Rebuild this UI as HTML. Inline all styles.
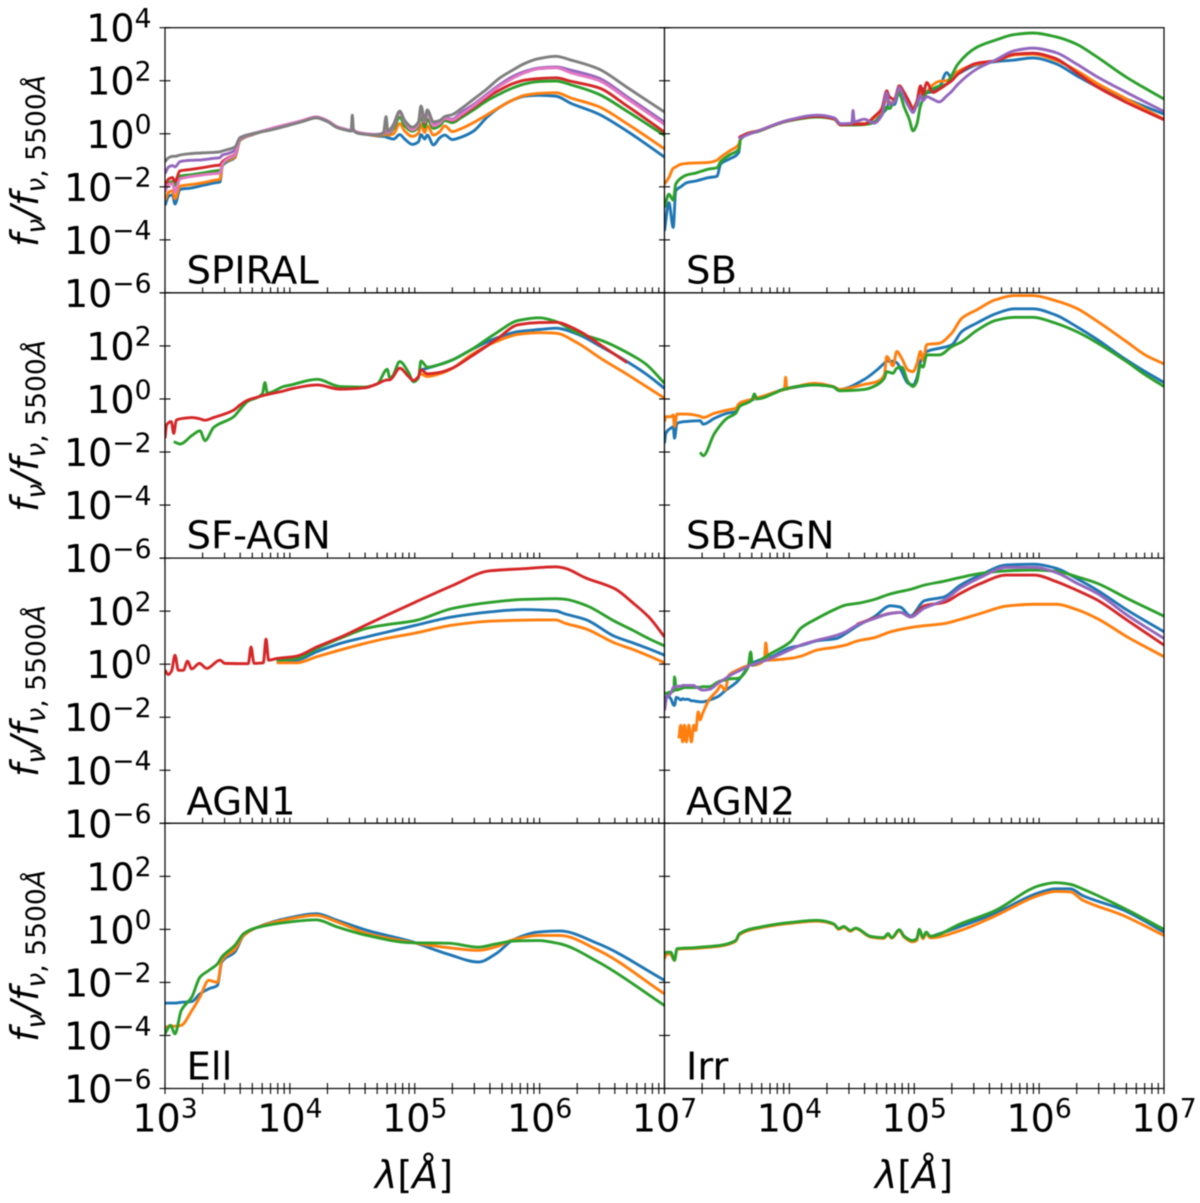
<!DOCTYPE html>
<html lang="en">
<head>
<meta charset="utf-8">
<title>Template SEDs by galaxy class</title>
<style>
html,body{margin:0;padding:0;background:#fff;}
svg{display:block;filter:blur(0.45px);}
text{font-family:"DejaVu Sans","Liberation Sans",sans-serif;fill:#000;}
.tl{font-size:38px;}
.title{font-size:38.6px;}
</style>
</head>
<body>
<svg id="figure" xmlns="http://www.w3.org/2000/svg" width="1200" height="1203" viewBox="0 0 1200 1203">
<rect x="0" y="0" width="1200" height="1203" fill="#fff"/>
<g id="panels"></g>
<text class="title" x="186.5" y="283.5">SPIRAL</text>
<text class="title" x="686" y="283.5">SB</text>
<text class="title" x="186.5" y="548.5">SF-AGN</text>
<text class="title" x="686" y="548.5">SB-AGN</text>
<text class="title" x="186.5" y="814.5">AGN1</text>
<text class="title" x="686" y="814.5">AGN2</text>
<text class="title" x="186.5" y="1079.5">Ell</text>
<text class="title" x="686" y="1079.5">Irr</text>
<text class="tl" transform="translate(38,161) rotate(-90)" text-anchor="middle" font-style="italic">f<tspan dy="7" font-size="26.6">ν</tspan><tspan dy="-7">/f</tspan><tspan dy="7" font-size="26.6">ν<tspan font-style="normal">, 5500</tspan>Å</tspan></text>
<text class="tl" transform="translate(38,426) rotate(-90)" text-anchor="middle" font-style="italic">f<tspan dy="7" font-size="26.6">ν</tspan><tspan dy="-7">/f</tspan><tspan dy="7" font-size="26.6">ν<tspan font-style="normal">, 5500</tspan>Å</tspan></text>
<text class="tl" transform="translate(38,691) rotate(-90)" text-anchor="middle" font-style="italic">f<tspan dy="7" font-size="26.6">ν</tspan><tspan dy="-7">/f</tspan><tspan dy="7" font-size="26.6">ν<tspan font-style="normal">, 5500</tspan>Å</tspan></text>
<text class="tl" transform="translate(38,956) rotate(-90)" text-anchor="middle" font-style="italic">f<tspan dy="7" font-size="26.6">ν</tspan><tspan dy="-7">/f</tspan><tspan dy="7" font-size="26.6">ν<tspan font-style="normal">, 5500</tspan>Å</tspan></text>
<text class="tl" x="414" y="1188" text-anchor="middle"><tspan font-style="italic">λ</tspan>[<tspan font-style="italic">Å</tspan>]</text>
<text class="tl" x="914" y="1188" text-anchor="middle"><tspan font-style="italic">λ</tspan>[<tspan font-style="italic">Å</tspan>]</text>
</svg>
<script>
const _ = null;

/* tick data (log10 units) */
const xTickDecades = [3, 4, 5, 6, 7];
const xTickLabels = ["3", "4", "5", "6", "7"];
const xMinorMultiples = [2, 3, 4, 5, 6, 7, 8, 9];
const yTickDecades = [4, 2, 0, -2, -4, -6];
const yTickLabels = ["4", "2", "0", "−2", "−4", "−6"];

/* SPIRAL: log10 wavelength and log10 flux */
const spiralWave = [3,3.03,3.06,3.08,3.12,3.2,3.3,3.4,3.44,3.46,3.5,3.56,3.6,3.7,3.85,4,4.1,4.21,4.3,4.38,4.44,4.49,4.5,4.51,4.6,4.69,4.75,4.77,4.785,4.83,4.88,4.92,4.98,5.03,5.05,5.08,5.1,5.15,5.2,5.24,5.3,5.37,5.47,5.58,5.68,5.78,5.88,5.99,6.13,6.25,6.47,6.7,7];
const spiralBlue = [-2.7,-2.35,-2.3,-2.65,-2.1,-2.05,-1.95,-1.85,-1.82,-1.2,-1.05,-.9,-.25,-.03,.18,.36,.48,.62,.48,.25,.17,.12,.3,.12,0,-.08,-.1,-.12,-.15,-.2,-.03,-.2,-.4,-.3,-.03,-.2,-.05,-.42,-.15,-.05,-.22,-.13,.1,.63,1,1.26,1.42,1.45,1.42,1.15,.75,.1,-.88];
const spiralOrange = [-2.5,-2.2,-2.15,-2.45,-1.98,-1.92,-1.85,-1.75,-1.72,-1.15,-1.02,-.88,-.24,-.03,.18,.36,.48,.62,.48,.25,.17,.12,.3,.12,0,-.07,-.05,-.03,-.05,0,.38,.1,-.1,.03,.35,.05,.3,-.05,.08,.3,.08,.19,.42,.72,1,1.26,1.45,1.52,1.55,1.35,1.03,.38,-.57];
const spiralGreen = [-2.1,-1.85,-1.8,-1.95,-1.6,-1.55,-1.48,-1.4,-1.38,-1.2,-.98,-.82,-.22,-.03,.18,.36,.48,.62,.48,.25,.17,.12,.3,.12,0,-.05,-.02,.15,0,.2,.62,.3,.1,.25,.7,.25,.55,.2,.3,.5,.42,.6,.9,1.25,1.5,1.72,1.88,1.97,1.99,1.85,1.5,.85,-.06];
const spiralRed = [-1.95,-1.7,-1.65,-1.8,-1.4,-1.35,-1.28,-1.2,-1.18,-1.05,-.92,-.78,-.2,-.02,.18,.37,.49,.63,.48,.25,.17,.12,.35,.12,0,-.04,0,.3,.02,.3,.8,.45,.15,.35,1,.4,.85,.3,.4,.58,.5,.68,1,1.37,1.65,1.88,2.02,2.08,2.11,1.98,1.74,1.05,.06];
const spiralPurple = [-1.5,-1.25,-1.2,-1.25,-1.05,-1,-.98,-.92,-.9,-.8,-.75,-.62,-.15,0,.19,.37,.49,.63,.49,.26,.17,.12,.35,.12,0,-.02,.02,.45,.05,.35,.85,.45,.2,.4,.95,.45,.8,.35,.45,.6,.55,.8,1.1,1.5,1.85,2.15,2.35,2.48,2.52,2.4,2.11,1.4,.44];
const spiralPink = [-2.2,-1.9,-1.88,-2.2,-1.7,-1.62,-1.55,-1.5,-1.48,-1.15,-.95,-.8,-.2,-.02,.2,.38,.5,.64,.5,.26,.18,.13,.4,.13,.01,-.03,0,.35,.02,.3,.8,.45,.15,.35,.95,.45,.8,.3,.4,.58,.52,.72,1.05,1.45,1.8,2.08,2.3,2.45,2.49,2.3,2.02,1.32,.35];
const spiralGray = [-1.05,-.9,-.85,-.85,-.8,-.75,-.72,-.7,-.68,-.65,-.6,-.5,-.15,0,.15,.33,.46,.6,.46,.23,.15,.1,.7,.1,-.02,-.05,.05,.65,.1,.35,.85,.5,.25,.45,1.05,.5,.9,.45,.5,.65,.72,.94,1.3,1.7,2.1,2.39,2.65,2.83,2.92,2.78,2.45,1.75,.82];

/* SB */
const sbWave = [3,3.035,3.07,3.09,3.13,3.18,3.25,3.355,3.42,3.45,3.52,3.595,3.61,3.77,3.98,4.22,4.36,4.41,4.5,4.51,4.52,4.6,4.68,4.74,4.78,4.8,4.84,4.88,4.92,4.96,4.99,5.02,5.05,5.07,5.1,5.15,5.2,5.26,5.3,5.35,5.5,5.65,5.8,5.95,6.13,6.3,6.45,6.7,7];
const sbBlue = [-3.66,-2.6,-3.53,-2.15,-2,-1.84,-1.78,-1.65,-1.6,-1.14,-.95,-.7,-.14,.14,.49,.68,.58,.36,.38,.38,.38,.38,.45,.75,.95,1.2,1.1,1.6,1.5,1.2,.95,1.05,1.5,1.7,1.55,1.6,1.75,2.31,2.1,2.25,2.6,2.72,2.78,2.86,2.65,2.19,1.81,1.31,.74];
const sbOrange = [-1.9,-1.65,-1.3,-1.25,-1.15,-1.12,-1.1,-1.08,-1,-.88,-.65,-.4,-.14,.14,.49,.68,.58,.36,.38,.38,.38,.38,.6,.9,1.25,1.15,1.2,1.68,1.45,1.1,1,1.2,1.75,1.35,1.56,1.85,1.98,2,2.15,2.35,2.63,2.75,2.97,3,2.78,2.38,1.94,1.31,.55];
const sbGreen = [-2.78,-2.28,-2.5,-1.9,-1.68,-1.55,-1.48,-1.33,-1.28,-1.05,-.8,-.58,-.2,.12,.47,.63,.55,.33,.33,.33,.33,.35,.42,.7,1,.95,1.25,1.5,1,.55,.11,.35,1.06,1.3,1.56,1.7,1.8,1.87,2.2,2.63,3.26,3.53,3.74,3.8,3.66,3.38,2.94,2.13,1.31];
const sbRed = [_,_,_,_,_,_,_,_,_,_,_,-.15,-.1,.14,.49,.66,.56,.34,.36,.36,.36,.36,.65,.95,1.62,1.4,1.3,1.81,1.55,1.2,.93,1.2,1.81,1.5,1.93,1.56,1.68,1.87,2,2.25,2.66,2.75,3,3.04,2.84,2.31,1.81,1.18,.53];
const sbPurple = [_,_,_,_,_,_,_,_,_,_,_,-.2,-.15,.14,.5,.7,.6,.38,.4,.88,.45,.55,.4,.7,1.55,1.1,1.2,1.75,1.35,1,.8,1.1,1.45,1.25,1.4,1.3,1.2,1.43,1.6,1.87,2.44,2.78,3.13,3.23,3.07,2.63,2.19,1.56,.84];

/* SF-AGN */
const sfAgnWave = [3,3.013,3.05,3.07,3.09,3.12,3.22,3.28,3.32,3.39,3.55,3.6,3.66,3.78,3.8,3.82,3.95,4,4.22,4.4,4.6,4.7,4.78,4.8,4.82,4.88,4.95,4.99,5.03,5.05,5.1,5.2,5.3,5.45,5.65,5.83,6,6.13,6.3,6.5,6.7,6.85,7];
const sfAgnBlue = [_,_,_,_,_,_,_,_,_,_,_,_,_,_,_,_,_,_,_,_,_,_,_,_,_,_,_,_,_,1.1,1.16,1.3,1.47,1.85,2.29,2.54,2.62,2.67,2.45,1.95,1.41,.95,.4];
const sfAgnOrange = [_,_,_,_,_,_,_,_,_,_,_,_,_,_,_,_,_,_,_,_,_,_,_,_,_,_,_,_,_,.95,.85,.95,1.15,1.66,2.16,2.44,2.5,2.48,2.12,1.5,.93,.48,.03];
const sfAgnGreen = [_,_,_,-1.61,-1.65,-1.7,-1.36,-1.2,-1.57,-1.07,-.67,-.4,-.1,.2,.62,.22,.47,.52,.74,.47,.45,.57,1.12,.8,.85,1.41,1,.65,.8,1.43,1.2,1.3,1.47,1.85,2.48,2.96,3.06,2.92,2.5,2.2,1.75,1.32,.59];
const sfAgnRed = [-1.48,-.98,-.85,-1.3,-.8,-.75,-.7,-.75,-.8,-.7,-.42,-.23,-.05,.12,.15,.17,.3,.37,.53,.37,.42,.57,.72,.72,.8,1.16,.85,.7,.85,1.1,.95,1,1.16,1.6,2.23,2.8,2.88,2.89,2.6,2,1.37,_,_];

/* SB-AGN */
const sbAgnWave = [3,3.01,3.05,3.07,3.08,3.1,3.17,3.285,3.31,3.4,3.5,3.57,3.6,3.7,3.72,3.74,3.9,3.96,3.97,3.98,4,4.2,4.35,4.4,4.6,4.7,4.76,4.78,4.83,4.86,4.9,4.95,4.99,5.02,5.05,5.07,5.1,5.2,5.3,5.38,5.5,5.65,5.8,5.95,6.13,6.3,6.45,6.7,6.85,7];
const sbAgnBlue = [-1.67,-1.3,-1.1,-1.05,-1.48,-.92,-.85,-.82,-.95,-.73,-.54,-.48,-.23,-.04,0,.02,.28,.37,.37,.38,.4,.53,.47,.36,.74,1.09,1.35,1.43,1.42,1.37,1.03,.59,.53,.78,1.41,1.6,1.79,1.91,2.04,2.54,2.86,3.21,3.4,3.4,3.17,2.73,2.29,1.47,1.03,.62];
const sbAgnOrange = [-.85,-.67,-.67,-.6,-1.04,-.57,-.57,-.65,-.7,-.54,-.42,-.35,-.16,-.01,.02,.04,.28,.37,.82,.38,.4,.59,.47,.36,.55,.65,.9,1.6,1.25,1.79,1.53,1.09,1.03,1.3,1.79,1.45,2.05,2.1,2.48,3.04,3.36,3.74,3.9,3.9,3.71,3.42,2.98,2.16,1.66,1.32];
const sbAgnGreen = [_,_,_,_,_,_,_,-2.01,-2.14,-1.3,-.73,-.54,-.29,-.04,.19,0,.26,.37,.37,.38,.42,.53,.46,.31,.36,.53,.78,1.03,.97,1.16,1.2,.65,.47,.65,1.28,1.2,1.66,1.66,1.97,2.16,2.58,2.96,3.08,3.08,2.86,2.54,2.16,1.41,.91,.47];

/* AGN1 */
const agn1Wave = [3,3.027,3.053,3.08,3.107,3.147,3.18,3.214,3.275,3.334,3.44,3.48,3.667,3.689,3.713,3.787,3.809,3.83,3.894,4.054,4.215,4.43,4.615,4.75,5,5.3,5.6,5.87,6.13,6.2,6.37,6.6,6.75,6.88,7];
const agn1Blue = [_,_,_,_,_,_,_,_,_,_,_,_,_,_,_,_,_,_,.11,.15,.47,.82,1.03,1.18,1.46,1.78,1.97,2.06,2.01,1.9,1.68,1.05,.8,.57,.34];
const agn1Orange = [_,_,_,_,_,_,_,_,_,_,_,_,_,_,_,_,_,_,.05,.05,.28,.57,.8,.95,1.17,1.47,1.62,1.66,1.67,1.55,1.33,.8,.55,.3,.05];
const agn1Green = [_,_,_,_,_,_,_,_,_,_,_,_,_,_,_,_,_,_,.15,.21,.59,1.03,1.35,1.47,1.64,2.1,2.33,2.44,2.47,2.45,2.22,1.62,1.27,.95,.69];
const agn1Red = [-.23,-.39,-.25,.34,-.23,-.23,.11,-.18,.03,-.16,.15,.03,.02,.65,.03,.05,.94,.15,.21,.3,.65,1.07,1.49,1.79,2.33,2.96,3.52,3.6,3.67,3.62,3.25,2.85,2.3,1.75,1.03];

/* AGN2 */
const agn2Wave = [3,3.02,3.035,3.05,3.075,3.08,3.095,3.115,3.13,3.145,3.16,3.175,3.195,3.215,3.235,3.25,3.27,3.285,3.305,3.36,3.425,3.45,3.485,3.515,3.58,3.67,3.69,3.705,3.8,3.811,3.828,4.01,4.09,4.22,4.38,4.45,4.54,4.68,4.81,4.89,4.97,5.08,5.24,5.37,5.53,5.74,5.96,6.14,6.3,6.465,6.705,7];
const agn2Blue = [-1.48,-1.2,-1.23,-1.3,-1.55,-1.55,-1.25,-1.3,-1.35,-1.3,-1.33,-1.32,-1.33,-1.38,-1.38,-1.4,-1.41,-1.42,-1.42,-1.35,-1.23,-1.15,-1,-.9,-.67,-.1,.03,.05,.2,.2,.22,.63,.7,.88,.97,1.15,1.43,1.79,2.2,2.15,1.82,2.39,2.54,2.98,3.36,3.74,3.77,3.61,3.23,2.79,2.04,1.22];
const agn2Orange = [_,_,_,_,_,_,_,-2.8,-2.3,-2.93,-2.3,-2.93,-2.3,-2.93,-2.3,-2.5,-1.8,-2.1,-1.86,-1.32,-.98,-.8,-.98,-.42,-.23,-.05,-.03,-.04,.15,.8,.15,.22,.3,.53,.65,.72,.87,1,1.22,1.31,1.38,1.45,1.53,1.69,1.91,2.19,2.26,2.26,2.06,1.72,1.03,.28];
const agn2Green = [-1.1,-1.1,-1.06,-1.05,-1,-.48,-.98,-.95,-.93,-.9,-.88,-.88,-.88,-.88,-.88,-.88,-.87,-.87,-.85,-.85,-.68,-.63,-.6,-.55,-.54,-.1,.46,-.04,.25,.27,.33,.85,1.35,1.72,2.1,2.23,2.29,2.44,2.65,2.74,2.82,2.98,3.13,3.27,3.42,3.52,3.55,3.5,3.3,3.05,2.48,1.81];
const agn2Red = [_,_,_,_,_,_,_,_,_,_,_,_,_,_,_,_,_,_,_,_,_,_,_,_,_,_,_,_,_,_,_,_,_,_,_,_,1.5,1.74,1.92,1.95,1.78,2.2,2.33,2.67,3.04,3.36,3.36,3.11,2.79,2.42,1.66,.72];
const agn2Purple = [-1.74,-1.23,-1.17,-1.1,-.86,-.86,-.86,-.83,-.83,-.8,-.8,-.8,-.8,-.8,-.8,-.85,-.9,-.95,-.98,-.95,-.73,-.65,-.55,-.45,-.29,-.08,-.03,-.02,.13,.14,.17,.55,.72,.9,1.09,1.22,1.47,1.72,1.91,1.95,1.78,2.11,2.42,2.87,3.27,3.65,3.65,3.45,3.06,2.67,1.85,.97];

/* Ell */
const ellWave = [3,3.044,3.08,3.13,3.215,3.28,3.35,3.42,3.455,3.56,3.63,3.73,4,4.21,4.38,4.62,4.96,5.27,5.51,5.65,5.79,5.99,6.16,6.47,7];
const ellBlue = [-2.78,-2.78,-2.78,-2.75,-2.72,-2.43,-2.24,-2.11,-1.23,-.85,-.23,.06,.44,.59,.34,-.04,-.44,-.94,-1.23,-.92,-.39,-.1,-.06,-.54,-1.92];
const ellOrange = [-3.69,-3.65,-3.65,-3.62,-3.06,-2.55,-1.92,-2,-1.17,-.75,-.23,.06,.4,.53,.28,-.16,-.48,-.69,-.79,-.66,-.39,-.23,-.23,-.79,-2.43];
const ellGreen = [-3.94,-3.62,-3.94,-3.06,-2.55,-1.8,-1.55,-1.3,-1.04,-.6,-.16,.06,.28,.36,.09,-.23,-.5,-.52,-.67,-.55,-.44,-.42,-.54,-1.23,-2.87];

/* Irr */
const irrWave = [3,3.02,3.05,3.08,3.1,3.235,3.37,3.45,3.57,3.6,3.77,4.01,4.22,4.355,4.395,4.435,4.49,4.53,4.65,4.755,4.79,4.82,4.88,4.92,4.985,5.02,5.04,5.07,5.095,5.13,5.37,5.64,6.01,6.13,6.25,6.35,6.67,7];
const irrBlue = [_,_,_,_,_,_,_,_,_,_,_,_,_,_,_,_,_,_,_,_,_,_,_,_,_,_,_,_,_,-.28,.11,.59,1.4,1.53,1.53,1.27,.74,-.1];
const irrOrange = [-1.1,-.92,-.95,-1.17,-.75,-.72,-.67,-.63,-.45,-.2,.06,.23,.31,.19,0,.08,-.07,.03,-.29,-.34,-.2,-.33,-.05,-.3,-.47,-.42,-.05,-.35,-.17,-.32,-.04,.49,1.3,1.43,1.41,1.1,.53,-.23];
const irrGreen = [-.92,-.86,-.86,-1.17,-.73,-.69,-.64,-.6,-.42,-.16,.09,.26,.34,.21,.03,.11,-.04,.05,-.26,-.31,-.16,-.31,-.01,-.26,-.42,-.35,0,-.3,-.1,-.26,.21,.69,1.66,1.76,1.7,1.52,.82,0];

const BLUE = "#1f77b4", ORANGE = "#ff7f0e", GREEN = "#2ca02c", RED = "#d62728", PURPLE = "#9467bd", PINK = "#e377c2", GRAY = "#7f7f7f";

const panelList = [
  {key:"spiral", row:0, col:0, wave:spiralWave, lines:[["blue",BLUE,spiralBlue],["orange",ORANGE,spiralOrange],["green",GREEN,spiralGreen],["red",RED,spiralRed],["purple",PURPLE,spiralPurple],["pink",PINK,spiralPink],["gray",GRAY,spiralGray]]},
  {key:"sb", row:0, col:1, wave:sbWave, lines:[["blue",BLUE,sbBlue],["orange",ORANGE,sbOrange],["green",GREEN,sbGreen],["red",RED,sbRed],["purple",PURPLE,sbPurple]]},
  {key:"sf-agn", row:1, col:0, wave:sfAgnWave, lines:[["blue",BLUE,sfAgnBlue],["orange",ORANGE,sfAgnOrange],["green",GREEN,sfAgnGreen],["red",RED,sfAgnRed]]},
  {key:"sb-agn", row:1, col:1, wave:sbAgnWave, lines:[["blue",BLUE,sbAgnBlue],["orange",ORANGE,sbAgnOrange],["green",GREEN,sbAgnGreen]]},
  {key:"agn1", row:2, col:0, wave:agn1Wave, lines:[["blue",BLUE,agn1Blue],["orange",ORANGE,agn1Orange],["green",GREEN,agn1Green],["red",RED,agn1Red]]},
  {key:"agn2", row:2, col:1, wave:agn2Wave, lines:[["blue",BLUE,agn2Blue],["orange",ORANGE,agn2Orange],["green",GREEN,agn2Green],["red",RED,agn2Red],["purple",PURPLE,agn2Purple]]},
  {key:"ell", row:3, col:0, wave:ellWave, lines:[["blue",BLUE,ellBlue],["orange",ORANGE,ellOrange],["green",GREEN,ellGreen]]},
  {key:"irr", row:3, col:1, wave:irrWave, lines:[["blue",BLUE,irrBlue],["orange",ORANGE,irrOrange],["green",GREEN,irrGreen]]}
];

const NS = "http://www.w3.org/2000/svg";
const PANEL_W = 499.5, PANEL_H = 265.2, LEFT = 165, TOP = 27.7, TICK = 5.5;

function panelLeft(col){ return LEFT + col * PANEL_W; }
function panelTop(row){ return TOP + row * PANEL_H; }
function xScale(col, logWave){ return panelLeft(col) + (logWave - 3) / 4 * PANEL_W; }
function yScale(row, logFlux){ return panelTop(row) + (4 - logFlux) / 10 * PANEL_H; }

function make(tag, parent, attrs){
  const el = document.createElementNS(NS, tag);
  for (const k in attrs) el.setAttribute(k, attrs[k]);
  parent.appendChild(el);
  return el;
}

function tickLine(parent, x1, y1, x2, y2){
  const el = make("line", parent, {x1:x1, y1:y1, x2:x2, y2:y2, stroke:"#000", "stroke-width":1.1});
  
  
  return el;
}

function powerLabel(parent, x, y, anchor, exponent){
  const t = make("text", parent, {x:x, y:y, "text-anchor":anchor, "class":"tl"});
  
  
  t.appendChild(document.createTextNode("10"));
  const s = make("tspan", t, {dy:-14.2, "font-size":26.6});
  s.textContent = exponent;
  return t;
}

/* Monotone cubic path through one unbroken run of points: keeps spikes sharp, rounds smooth humps */
function smoothRun(pts){
  if (pts.length < 2) return "";
  const n = pts.length, slope = [], tan = [];
  for (let i = 0; i < n - 1; i++) slope.push((pts[i+1][1] - pts[i][1]) / (pts[i+1][0] - pts[i][0]));
  tan.push(slope[0]);
  for (let i = 1; i < n - 1; i++){
    if (slope[i-1] * slope[i] <= 0) tan.push(0);
    else {
      const h0 = pts[i][0] - pts[i-1][0], h1 = pts[i+1][0] - pts[i][0];
      tan.push(3 * (h0 + h1) / ((2 * h1 + h0) / slope[i-1] + (h1 + 2 * h0) / slope[i]));
    }
  }
  tan.push(slope[n-2]);
  let d = "M" + pts[0][0].toFixed(2) + " " + pts[0][1].toFixed(2);
  for (let i = 0; i < n - 1; i++){
    const h = (pts[i+1][0] - pts[i][0]) / 3;
    d += "C" + (pts[i][0] + h).toFixed(2) + " " + (pts[i][1] + tan[i] * h).toFixed(2) + " "
       + (pts[i+1][0] - h).toFixed(2) + " " + (pts[i+1][1] - tan[i+1] * h).toFixed(2) + " "
       + pts[i+1][0].toFixed(2) + " " + pts[i+1][1].toFixed(2);
  }
  return d;
}

function buildPanel(p){
  const root = document.getElementById("panels");
  const g = make("g", root, {});
  
  
  const x0 = panelLeft(p.col), y0 = panelTop(p.row);

  const bg = make("rect", g, {x:x0, y:y0, width:PANEL_W, height:PANEL_H, fill:"#fff"});
  
  

  const clip = make("clipPath", g, {id:"clip-" + p.key});
  make("rect", clip, {x:x0, y:y0, width:PANEL_W, height:PANEL_H});

  const plot = make("g", g, {"clip-path":"url(#clip-" + p.key + ")"});
  
  
  p.lines.forEach(function(s){
    let d = "", run = [];
    const n = Math.min(p.wave.length, s[2].length);
    for (let i = 0; i < n; i++){
      const v = s[2][i];
      if (v === null){ d += smoothRun(run); run = []; continue; }
      run.push([xScale(p.col, p.wave[i]), yScale(p.row, v)]);
    }
    d += smoothRun(run);
    const path = make("path", plot, {d:d, fill:"none", stroke:s[1], "stroke-width":2.9, "stroke-linejoin":"round"});
    
    
  });

  const frame = make("rect", g, {x:x0, y:y0, width:PANEL_W, height:PANEL_H, fill:"none", stroke:"#000", "stroke-width":1.2});
  
  

  /* y ticks on the left spine */
  yTickDecades.forEach(function(v, i){
    const y = yScale(p.row, v);
    tickLine(g, x0 - TICK, y, x0 + TICK, y);
    if (p.col === 0 && (i > 0 || p.row === 0)) powerLabel(g, 151.5, y + 14, "end", yTickLabels[i]);
  });

  /* x ticks on the bottom spine */
  const yb = y0 + PANEL_H;
  xTickDecades.forEach(function(d, i){
    const x = xScale(p.col, d);
    tickLine(g, x, yb - TICK, x, yb + TICK);
    if (p.row === 3 && (p.col === 0 || i > 0)) powerLabel(g, x, 1131.7, "middle", xTickLabels[i]);
    if (i < xTickDecades.length - 1){
      xMinorMultiples.forEach(function(m){
        const xm = xScale(p.col, d + Math.log10(m));
        tickLine(g, xm, yb - TICK, xm, yb + TICK);
      });
    }
  });
}

panelList.forEach(buildPanel);
</script>
</body>
</html>
